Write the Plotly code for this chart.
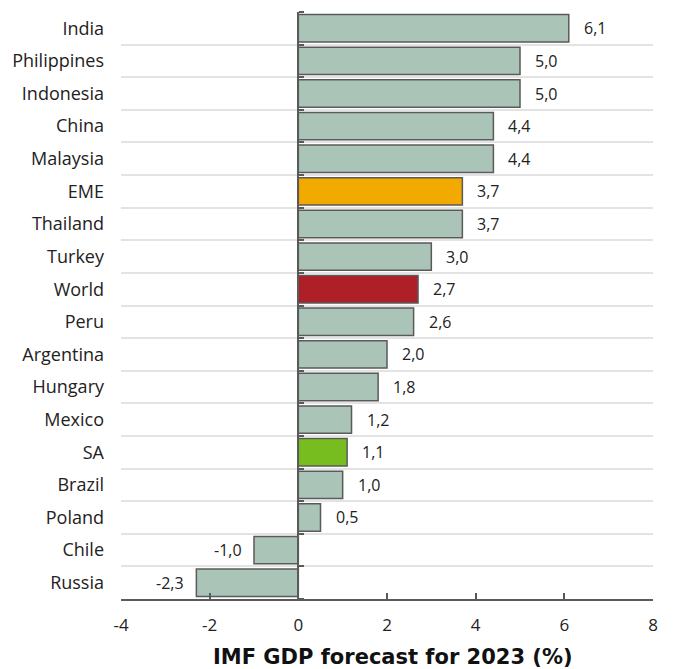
import plotly.graph_objects as go

# IMF GDP growth forecasts for 2023, listed top to bottom
countries = ["India", "Philippines", "Indonesia", "China", "Malaysia", "EME",
             "Thailand", "Turkey", "World", "Peru", "Argentina", "Hungary",
             "Mexico", "SA", "Brazil", "Poland", "Chile", "Russia"]
forecast = [6.1, 5.0, 5.0, 4.4, 4.4, 3.7, 3.7, 3.0, 2.7, 2.6, 2.0, 1.8,
            1.2, 1.1, 1.0, 0.5, -1.0, -2.3]

x_ticks = [-4, -2, 0, 2, 4, 6, 8]
x_title = "IMF GDP forecast for 2023 (%)"

BASE = "#aac5b8"
HIGHLIGHT = {"EME": "#f2a900", "World": "#ae1f27", "SA": "#78bd1f"}
colors = [HIGHLIGHT.get(c, BASE) for c in countries]

AXIS = "#5a5a5a"
FONT = "Open Sans"

n = len(countries)
y_range = [n - 0.5, -0.5]          # reversed: first country on top
boundaries = [i - 0.5 for i in range(n + 1)]

fig = go.Figure()
fig.add_trace(go.Bar(
    x=forecast, y=countries, orientation="h",
    marker=dict(color=colors, line=dict(color=AXIS, width=1.5)),
    width=0.84, hoverinfo="x+y",
))
# invisible companion trace so the zero-line axis (y2) gets rendered
fig.add_trace(go.Scatter(
    x=forecast, y=list(range(n)), yaxis="y2", mode="none",
    hoverinfo="skip", showlegend=False,
))

for c, v in zip(countries, forecast):
    txt = f"{v:.1f}".replace(".", ",")
    fig.add_annotation(
        x=v, y=c, text=txt, showarrow=False,
        xanchor="left" if v >= 0 else "right",
        xshift=13 if v >= 0 else -10,
        font=dict(family=FONT, size=16, color="#222"),
    )

# x-axis title placed below the tick labels
fig.add_annotation(
    x=0.5, y=0, xref="paper", yref="paper", yanchor="middle",
    yshift=-58, xshift=6, showarrow=False, text=f"<b>{x_title}</b>",
    font=dict(family="DejaVu Sans", size=21, color="#111"),
)

fig.update_layout(
    width=675, height=669,
    margin=dict(l=121, r=22, t=12, b=70),
    plot_bgcolor="white", paper_bgcolor="white",
    showlegend=False,
    font=dict(family=FONT, size=16, color="#222"),
    xaxis=dict(
        range=[-4, 8], tickvals=x_ticks,
        ticktext=[str(t) for t in x_ticks],
        showgrid=False, zeroline=False, automargin=False,
        showline=True, linecolor=AXIS, linewidth=2,
        ticks="inside", ticklen=6, tickwidth=1.5, tickcolor=AXIS,
        ticklabelstandoff=10,
        tickfont=dict(family=FONT, size=17, color="#222"),
    ),
    yaxis=dict(
        type="category", categoryorder="array", categoryarray=countries,
        range=y_range, automargin=False,
        tickson="boundaries", showgrid=True, gridcolor="#e3e3e3", gridwidth=1.5,
        showline=False, ticks="", ticklabelstandoff=16,
        tickfont=dict(family=FONT, size=18, color="#222"),
    ),
    # vertical zero line with short ticks at each category boundary
    yaxis2=dict(
        type="linear", range=y_range, overlaying="y",
        anchor="free", position=1 / 3, side="right",
        showline=True, linecolor=AXIS, linewidth=2,
        tickvals=boundaries, ticks="outside", ticklen=5, tickwidth=1.5,
        tickcolor=AXIS, showgrid=False, zeroline=False, showticklabels=False,
    ),
)

fig.write_html("out.html")
